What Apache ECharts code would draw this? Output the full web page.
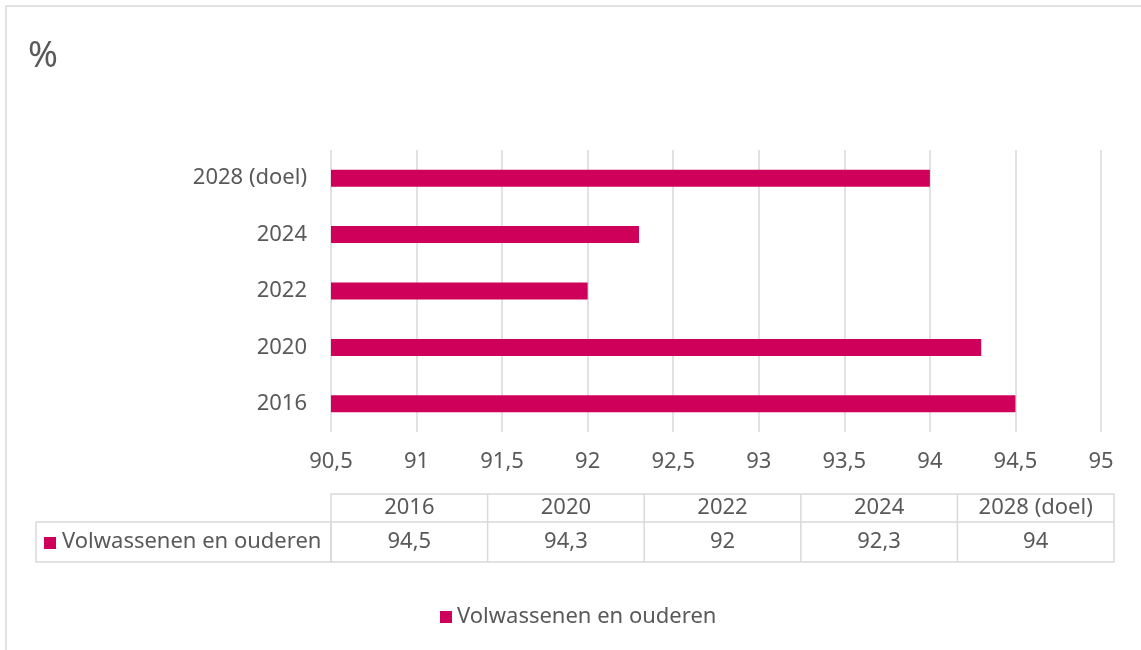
<!DOCTYPE html>
<html>
<head>
<meta charset="utf-8">
<script src="https://cdn.jsdelivr.net/npm/echarts@6/dist/echarts.min.js"></script>
<style>
  html, body { margin: 0; padding: 0; background: #fff; }
  #chart { width: 1141px; height: 650px; }
</style>
</head>
<body>
<div id="chart"></div>
<script>
// data
const categories = ['2016', '2020', '2022', '2024', '2028 (doel)']
const values = [94.5, 94.3, 92, 92.3, 94]
const seriesName = 'Volwassenen en ouderen'
const xTicks = { min: 90.5, max: 95, interval: 0.5 }

const barColor = '#cf0059'
const textColor = '#595959'
const lineColor = '#d9d9d9'
const font = 'Noto Sans'
const fs = 22

const fmt = v => String(v).replace('.', ',')

// table layout (below the plot)
const tblLeft = 331, tblRight = 1114, labelLeft = 36
const rowTop = 494, rowMid = 522, rowBottom = 562
const colW = (tblRight - tblLeft) / categories.length
const tFont = fs + 'px "' + font + '"'

const table = []
table.push({ type: 'rect', shape: { x: tblLeft, y: rowTop, width: tblRight - tblLeft, height: rowBottom - rowTop }, style: { fill: 'none', stroke: lineColor, lineWidth: 1.5 } })
table.push({ type: 'rect', shape: { x: labelLeft, y: rowMid, width: tblLeft - labelLeft, height: rowBottom - rowMid }, style: { fill: 'none', stroke: lineColor, lineWidth: 1.5 } })
table.push({ type: 'line', shape: { x1: tblLeft, y1: rowMid, x2: tblRight, y2: rowMid }, style: { stroke: lineColor, lineWidth: 1.5 } })
categories.forEach((c, i) => {
  const x0 = tblLeft + i * colW
  if (i > 0) {
    table.push({ type: 'line', shape: { x1: x0, y1: rowTop, x2: x0, y2: rowBottom }, style: { stroke: lineColor, lineWidth: 1.5 } })
  }
  table.push({ type: 'text', x: x0 + colW / 2, y: (rowTop + rowMid) / 2, style: { text: c, fill: textColor, font: tFont, align: 'center', verticalAlign: 'middle' } })
  table.push({ type: 'text', x: x0 + colW / 2, y: (rowMid + rowBottom) / 2, style: { text: fmt(values[i]), fill: textColor, font: tFont, align: 'center', verticalAlign: 'middle' } })
})
table.push({ type: 'rect', shape: { x: 44, y: 537, width: 12, height: 12 }, style: { fill: barColor } })
table.push({ type: 'text', x: 62, y: (rowMid + rowBottom) / 2, style: { text: seriesName, fill: textColor, font: tFont, align: 'left', verticalAlign: 'middle' } })

const myChart = echarts.init(document.getElementById('chart'))
const option = {
  animation: false,
  textStyle: { fontFamily: font },
  grid: { left: 331, right: 40, top: 150, bottom: 218 },
  xAxis: {
    type: 'value',
    min: xTicks.min,
    max: xTicks.max,
    interval: xTicks.interval,
    axisLine: { show: false },
    axisTick: { show: false },
    splitLine: { show: true, lineStyle: { color: lineColor, width: 1.5 } },
    axisLabel: { color: textColor, fontSize: fs, margin: 19, formatter: fmt }
  },
  yAxis: {
    type: 'category',
    data: categories,
    axisLine: { show: false },
    axisTick: { show: false },
    axisLabel: { color: textColor, fontSize: fs, margin: 24 }
  },
  legend: {
    data: [seriesName],
    left: 435,
    top: 601,
    icon: 'rect',
    itemWidth: 12,
    itemHeight: 12,
    itemGap: 8,
    textStyle: { color: textColor, fontSize: fs }
  },
  series: [{
    name: seriesName,
    type: 'bar',
    data: values,
    barWidth: 17,
    itemStyle: { color: barColor }
  }],
  graphic: [
    { type: 'rect', shape: { x: 6, y: 6, width: 1200, height: 700 }, style: { fill: 'none', stroke: lineColor, lineWidth: 1.5 }, silent: true },
    { type: 'text', x: 28, y: 57, style: { text: '%', fill: textColor, font: '36px "' + font + '"', verticalAlign: 'middle' } },
    ...table
  ]
}
myChart.setOption(option)
</script>
</body>
</html>
